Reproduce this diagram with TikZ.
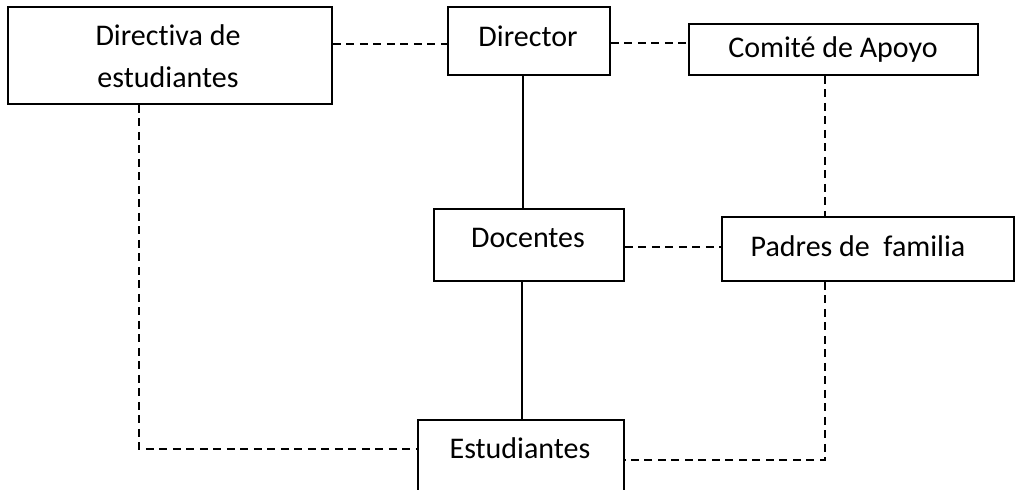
\documentclass[tikz,border=0pt]{standalone}
\usepackage{fontspec}
\setmainfont[RawFeature={-liga}]{Carlito}
\begin{document}
\begin{tikzpicture}[x=1pt,y=-1pt,
  box/.style={draw=black,line width=1.8pt,inner sep=0pt,anchor=north west},
  lbl/.style={inner sep=0pt,font=\fontsize{30}{42}\selectfont,align=center},
  solidline/.style={draw=black,line width=1.6pt},
  dashline/.style={draw=black,line width=1.8pt,dash pattern=on 8pt off 5.5pt}]
\useasboundingbox (0,0) rectangle (1015,490);
\clip (0,0) rectangle (1015,490);
% boxes
\node[box,minimum width=324pt,minimum height=97pt] (directiva) at (7,6) {};
\node[box,minimum width=162pt,minimum height=68pt] (director) at (447,6) {};
\node[box,minimum width=289pt,minimum height=51pt] (comite) at (688,23) {};
\node[box,minimum width=190pt,minimum height=72pt] (docentes) at (433,208) {};
\node[box,minimum width=292pt,minimum height=64pt] (padres) at (721,216) {};
\node[box,minimum width=206pt,minimum height=100pt] (estudiantes) at (417,419) {};
% labels
\node[lbl] (tdirectiva) at (168,56) {Directiva de\\estudiantes};
\node[lbl] (tdirector) at (528,36) {Director};
\node[lbl] (tcomite) at (833,50) {Comité de Apoyo};
\node[lbl] (tdocentes) at (528,238) {Docentes};
\node[lbl] (tpadres) at (858,246) {Padres de\ \ familia};
\node[lbl] (testudiantes) at (520,448) {Estudiantes};
% corner coordinates
\coordinate (cl) at (139,449);
\coordinate (cr) at (825,460);
% connectors
\draw[dashline] (directiva.east |- 0,44) -- (director.west |- 0,44);
\draw[dashline] (director.east |- 0,43) -- (comite.west |- 0,43);
\draw[solidline] (director.south -| 523,0) -- (docentes.north -| 523,0);
\draw[dashline] (comite.south -| 825,0) -- (padres.north -| 825,0);
\draw[dashline] (docentes.east |- 0,247) -- (padres.west |- 0,247);
\draw[solidline] (docentes.south -| 522,0) -- (estudiantes.north -| 522,0);
\draw[dashline] (directiva.south -| cl) -- (cl) -- (estudiantes.west |- cl);
\draw[dashline] (padres.south -| cr) -- (cr) -- (estudiantes.east |- cr);
\end{tikzpicture}
\end{document}
